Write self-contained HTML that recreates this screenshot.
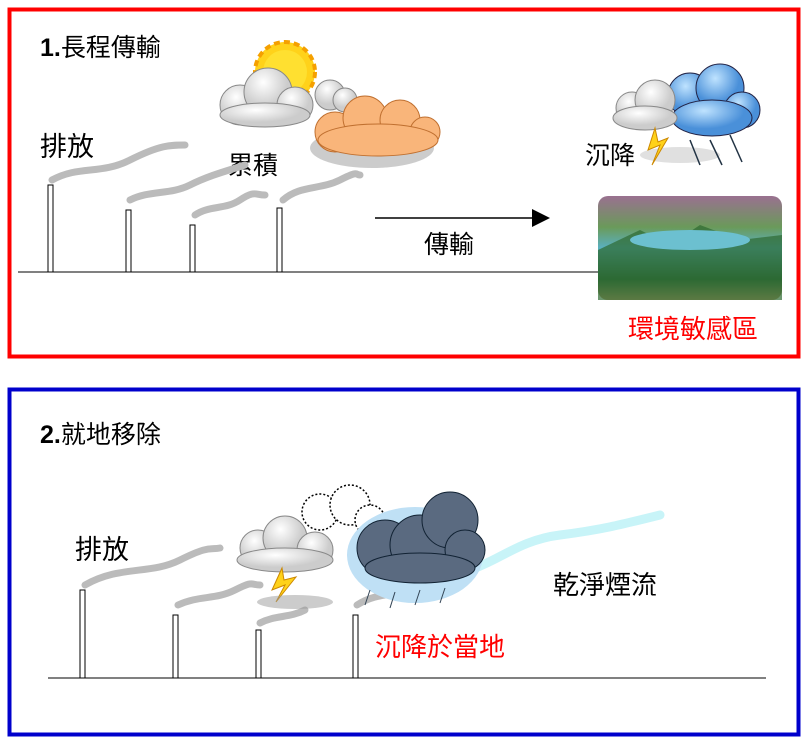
<!DOCTYPE html>
<html><head><meta charset="utf-8"><style>
body{margin:0;background:#fff;width:808px;height:742px;overflow:hidden}
svg text{font-family:"Liberation Sans","Noto Sans CJK TC",sans-serif}
</style></head><body>
<svg width="808" height="742" viewBox="0 0 808 742">
<defs>
<radialGradient id="cl" cx="0.4" cy="0.3"><stop offset="0" stop-color="#fff"/><stop offset="1" stop-color="#ccc"/></radialGradient>
<radialGradient id="bl" cx="0.4" cy="0.3"><stop offset="0" stop-color="#bfe3ff"/><stop offset="1" stop-color="#4a90d9"/></radialGradient>
<linearGradient id="lake" x1="0" y1="0" x2="0" y2="1"><stop offset="0" stop-color="#9a7090"/><stop offset="0.3" stop-color="#6a9a5a"/><stop offset="0.5" stop-color="#5ab0c0"/><stop offset="0.8" stop-color="#2a6a3a"/><stop offset="1" stop-color="#c8a070"/></linearGradient>
</defs>
<rect x="9.5" y="9.5" width="789" height="347" fill="none" stroke="#f00" stroke-width="4"/>
<text x="40" y="56" font-size="25"><tspan font-weight="bold">1.</tspan>長程傳輸</text>
<text x="40" y="156" font-size="27">排放</text>
<text x="228" y="174" font-size="25">累積</text>
<text x="585" y="164" font-size="25">沉降</text>
<text x="424" y="253" font-size="25">傳輸</text>
<line x1="375" y1="218" x2="535" y2="218" stroke="#000" stroke-width="1.5"/>
<polygon points="532,209 550,218 532,227" fill="#000"/>
<line x1="18" y1="272" x2="605" y2="272" stroke="#000" stroke-width="1"/>
<g fill="#fff" stroke="#000" stroke-width="1">
<rect x="48" y="185" width="5" height="87"/><rect x="126" y="210" width="5" height="62"/><rect x="190" y="225" width="5" height="47"/><rect x="277" y="208" width="5" height="64"/>
</g>
<g fill="none" stroke="#bbb" stroke-width="7" stroke-linecap="round">
<path d="M52 180 C80 165,100 175,130 160 S170 145,185 145"/>
<path d="M130 200 C150 190,170 195,190 185 S230 170,245 165"/>
<path d="M195 215 C210 205,225 210,240 200 S255 195,265 195"/>
<path d="M283 200 C300 185,320 190,340 180 S355 175,360 175"/>
</g>
<g>
<circle cx="285" cy="72" r="30" fill="#ffd21a" stroke="#f5a000" stroke-width="4" stroke-dasharray="6 4"/>
<circle cx="285" cy="72" r="22" fill="#ffe030"/>
<g fill="url(#cl)" stroke="#888">
<circle cx="240" cy="105" r="20"/><circle cx="268" cy="92" r="24"/><circle cx="295" cy="105" r="18"/><circle cx="330" cy="95" r="15"/><circle cx="345" cy="100" r="12"/>
<ellipse cx="265" cy="115" rx="45" ry="12"/></g>
<ellipse cx="372" cy="148" rx="62" ry="20" fill="#aaa" opacity="0.6"/>
<g fill="#f9b57a" stroke="#c07030"><circle cx="335" cy="132" r="20"/><circle cx="365" cy="118" r="22"/><circle cx="400" cy="120" r="20"/><circle cx="425" cy="132" r="15"/><ellipse cx="378" cy="140" rx="60" ry="16"/></g>
</g>
<g>
<g fill="url(#bl)" stroke="#224"><circle cx="690" cy="95" r="22"/><circle cx="720" cy="88" r="24"/><circle cx="742" cy="110" r="18"/><ellipse cx="712" cy="118" rx="40" ry="18"/></g>
<g fill="url(#cl)" stroke="#888"><circle cx="632" cy="108" r="16"/><circle cx="655" cy="100" r="20"/><ellipse cx="645" cy="118" rx="32" ry="12"/></g>
<ellipse cx="680" cy="155" rx="40" ry="8" fill="#ccc" opacity="0.6"/>
<polygon points="655,128 648,150 660,145 652,165 668,138 658,142" fill="#ffd21a" stroke="#c80"/>
<g stroke="#234" stroke-width="1.5"><line x1="690" y1="140" x2="700" y2="165"/><line x1="710" y1="140" x2="722" y2="165"/><line x1="730" y1="135" x2="742" y2="162"/></g>
</g>
<g>
<rect x="598" y="196" width="184" height="104" rx="10" fill="url(#lake)"/>
<path d="M598 250 L640 230 L670 245 L700 225 L740 240 L782 235 L782 300 L598 300Z" fill="#2e6a30" opacity="0.7"/>
<ellipse cx="690" cy="240" rx="60" ry="10" fill="#6cc0d0"/>
</g>
<text x="628" y="338" font-size="26" fill="#f00">環境敏感區</text>
<rect x="9.5" y="389.5" width="789" height="345" fill="none" stroke="#00c" stroke-width="4"/>
<text x="40" y="443" font-size="25"><tspan font-weight="bold">2.</tspan>就地移除</text>
<text x="75" y="559" font-size="27">排放</text>
<text x="553" y="594" font-size="26">乾淨煙流</text>
<text x="375" y="656" font-size="26" fill="#f00">沉降於當地</text>
<line x1="48" y1="678" x2="766" y2="678" stroke="#000" stroke-width="1"/>
<g fill="#fff" stroke="#000" stroke-width="1">
<rect x="80" y="590" width="5" height="88"/><rect x="173" y="615" width="5" height="63"/><rect x="256" y="630" width="5" height="48"/><rect x="353" y="615" width="5" height="63"/>
</g>
<g fill="none" stroke="#bbb" stroke-width="7" stroke-linecap="round">
<path d="M85 585 C120 565,150 575,180 560 S210 550,220 548"/>
<path d="M178 605 C200 595,215 600,235 590 S250 585,260 585"/>
<path d="M260 623 C275 615,290 618,305 610"/>
<path d="M357 605 C380 590,400 598,420 585"/>
</g>
<path d="M470 570 C500 560,520 540,560 535 S620 525,660 515" fill="none" stroke="#c8f4f8" stroke-width="9" stroke-linecap="round"/>
<g>
<g fill="#fff" stroke="#000" stroke-width="1.5" stroke-dasharray="2 2"><circle cx="320" cy="512" r="18"/><circle cx="350" cy="505" r="20"/><circle cx="370" cy="520" r="15"/></g>
<g fill="url(#cl)" stroke="#888"><circle cx="258" cy="548" r="18"/><circle cx="285" cy="538" r="22"/><circle cx="315" cy="550" r="18"/><ellipse cx="285" cy="560" rx="48" ry="12"/></g>
<polygon points="282,568 272,590 285,585 276,602 296,577 284,580" fill="#ffd21a" stroke="#c80"/>
<ellipse cx="295" cy="602" rx="38" ry="7" fill="#999" opacity="0.5"/>
<ellipse cx="415" cy="555" rx="68" ry="48" fill="#bfe0f5"/>
<g fill="#5a6a80" stroke="#123"><circle cx="385" cy="548" r="28"/><circle cx="420" cy="545" r="30"/><circle cx="450" cy="520" r="28"/><circle cx="465" cy="550" r="20"/><ellipse cx="420" cy="568" rx="55" ry="15"/></g>
<g stroke="#345" stroke-width="1"><line x1="370" y1="590" x2="365" y2="605"/><line x1="395" y1="592" x2="390" y2="608"/><line x1="420" y1="590" x2="415" y2="605"/><line x1="445" y1="588" x2="440" y2="603"/></g>
</g>
</svg>
</body></html>
